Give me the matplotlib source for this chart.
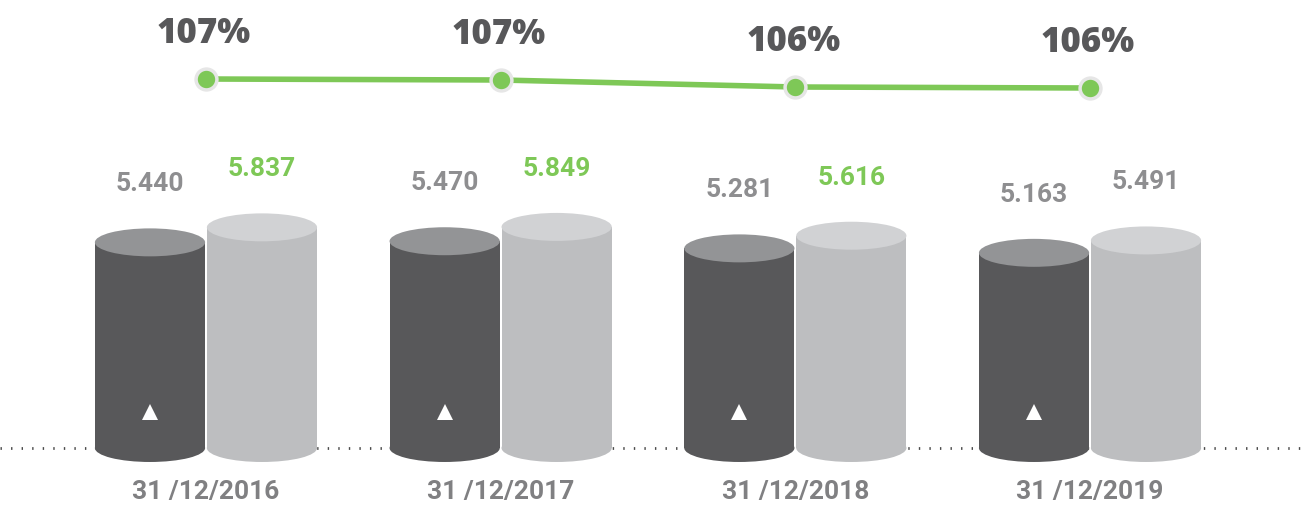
import matplotlib.pyplot as plt
from matplotlib.patches import Rectangle, Ellipse

# Dados
datas = ['31 /12/2016', '31 /12/2017', '31 /12/2018', '31 /12/2019']
serie_a = [5440, 5470, 5281, 5163]
serie_b = [5837, 5849, 5616, 5491]
rotulos_a = ['5.440', '5.470', '5.281', '5.163']
rotulos_b = ['5.837', '5.849', '5.616', '5.491']
cor_rotulo_b = ['#7ec857', '#7ec857', '#7ec857', '#8e8e90']
percentual = [107.0, 106.9, 106.2, 106.1]
rotulos_pct = ['107%', '107%', '106%', '106%']

verde = '#7ec857'
escuro, escuro_topo = '#58585a', '#939496'
claro, claro_topo = '#bdbec0', '#d1d2d4'
fonte = ['Roboto', 'DejaVu Sans']
fonte_pct = ['Open Sans', 'DejaVu Sans']

fig = plt.figure(figsize=(13.01, 5.05), dpi=100)
ax = fig.add_axes([0, 0, 1, 1])
ax.set_xlim(-0.699, 3.716)
ax.set_ylim(-1508, 11852)
ax.axis('off')

larg = 0.374
elip = 740  # altura da elipse em unidades do eixo

# linha pontilhada da base
ax.axhline(0, color='#4a4a4a', lw=2, linestyle=(0, (0.5, 3.3)), zorder=1)

def cilindro(xc, valor, corpo, topo):
    ax.add_patch(Rectangle((xc - larg / 2, 0), larg, valor, color=corpo, lw=0, zorder=2))
    ax.add_patch(Ellipse((xc, 0), larg, elip, color=corpo, lw=0, zorder=2))
    ax.add_patch(Ellipse((xc, valor), larg, elip, color=topo, lw=0, zorder=3))

for i in range(len(datas)):
    xa, xb = i - 0.19, i + 0.19
    cilindro(xa, serie_a[i], escuro, escuro_topo)
    cilindro(xb, serie_b[i], claro, claro_topo)
    ax.plot(xa, 950, marker='^', color='white', ms=11, mew=0, zorder=4)
    ax.annotate(rotulos_a[i], (xa, serie_a[i]), xytext=(0, 58), textcoords='offset pixels',
                ha='center', va='center', fontsize=19, fontweight='bold', color='#8e8e90',
                family=fonte)
    ax.annotate(rotulos_b[i], (xb, serie_b[i]), xytext=(0, 58), textcoords='offset pixels',
                ha='center', va='center', fontsize=19, fontweight='bold', color=cor_rotulo_b[i],
                family=fonte)
    ax.text(i, -1164, datas[i], ha='center', va='center', fontsize=19, fontweight='bold',
            color='#808082', family=fonte)

# linha de percentual
ax2 = ax.twinx()
ax2.set_ylim(64.4, 114.9)
ax2.axis('off')
ax2.plot(range(len(percentual)), percentual, color=verde, lw=4, zorder=5,
         marker='o', ms=15, mfc=verde, mec='#e6e6e6', mew=2.5)
for i, p in enumerate(percentual):
    ax2.annotate(rotulos_pct[i], (i, p), xytext=(-2, 45), textcoords='offset pixels',
                 ha='center', va='center', fontsize=25, fontweight='heavy',
                 color='#58585a', family=fonte_pct)

fig.savefig('out.png', dpi=100)
